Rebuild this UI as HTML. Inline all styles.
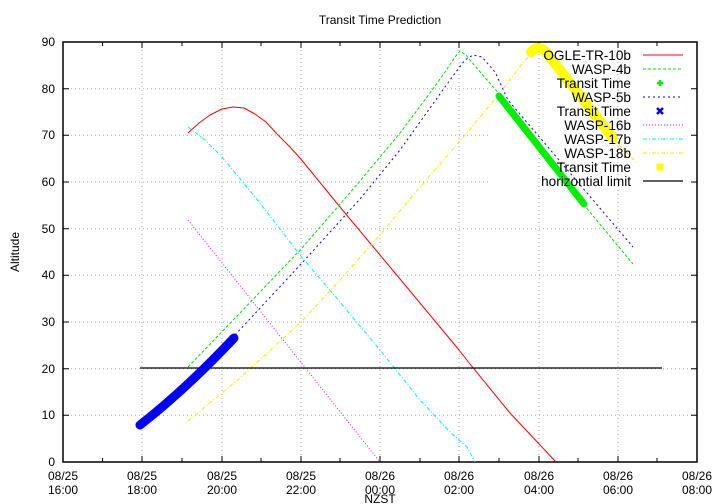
<!DOCTYPE html>
<html><head><meta charset="utf-8"><style>
html,body{margin:0;padding:0;background:#fff}
svg{display:block;font-family:"Liberation Sans",sans-serif;font-size:12px}
</style></head><body>
<svg width="720" height="504" viewBox="0 0 720 504" xmlns="http://www.w3.org/2000/svg">
<g stroke="#aaa" stroke-width="1" stroke-dasharray="1,3">
<line x1="142" y1="42" x2="142" y2="462"/><line x1="222" y1="42" x2="222" y2="462"/>
<line x1="301" y1="42" x2="301" y2="462"/><line x1="380" y1="42" x2="380" y2="462"/>
<line x1="459" y1="42" x2="459" y2="462"/><line x1="539" y1="42" x2="539" y2="462"/>
<line x1="618" y1="42" x2="618" y2="462"/>
<line x1="63" y1="415.3" x2="697" y2="415.3"/><line x1="63" y1="368.7" x2="697" y2="368.7"/>
<line x1="63" y1="322" x2="697" y2="322"/><line x1="63" y1="275.3" x2="697" y2="275.3"/>
<line x1="63" y1="228.7" x2="697" y2="228.7"/><line x1="63" y1="182" x2="490" y2="182"/>
<line x1="63" y1="135.3" x2="490" y2="135.3"/><line x1="63" y1="88.7" x2="490" y2="88.7"/>
</g>
<rect x="63" y="42" width="634" height="420" fill="none" stroke="#000" stroke-width="1.5"/>
<g stroke="#000" stroke-width="1">
<path d="M63 415.3h6M63 368.7h6M63 322h6M63 275.3h6M63 228.7h6M63 182h6M63 135.3h6M63 88.7h6M697 415.3h-6M697 368.7h-6M697 322h-6M697 275.3h-6M697 228.7h-6M697 182h-6M697 135.3h-6M697 88.7h-6"/>
<path d="M102.6 462v-4M142 462v-6M182 462v-4M222 462v-6M261 462v-4M301 462v-6M340 462v-4M380 462v-6M420 462v-4M459 462v-6M499 462v-4M539 462v-6M578 462v-4M618 462v-6M657 462v-4M102.6 42v4M142 42v6M182 42v4M222 42v6M261 42v4M301 42v6M340 42v4M380 42v6M420 42v4M459 42v6M499 42v4M539 42v6M578 42v4M618 42v6M657 42v4"/>
</g>
<g text-anchor="end">
<text x="55" y="466">0</text><text x="55" y="419">10</text><text x="55" y="373">20</text>
<text x="55" y="326">30</text><text x="55" y="279">40</text><text x="55" y="233">50</text>
<text x="55" y="186">60</text><text x="55" y="139">70</text><text x="55" y="93">80</text><text x="55" y="46">90</text>
</g>
<g text-anchor="middle">
<text x="63" y="480">08/25</text><text x="63" y="494">16:00</text>
<text x="142" y="480">08/25</text><text x="142" y="494">18:00</text>
<text x="222" y="480">08/25</text><text x="222" y="494">20:00</text>
<text x="301" y="480">08/25</text><text x="301" y="494">22:00</text>
<text x="380" y="480">08/26</text><text x="380" y="494">00:00</text>
<text x="459" y="480">08/26</text><text x="459" y="494">02:00</text>
<text x="539" y="480">08/26</text><text x="539" y="494">04:00</text>
<text x="618" y="480">08/26</text><text x="618" y="494">06:00</text>
<text x="697" y="480">08/26</text><text x="697" y="494">08:00</text>
<text x="380" y="24">Transit Time Prediction</text>
<text x="380" y="503">NZST</text>
<text transform="translate(19,252) rotate(-90)">Altitude</text>
</g>
<g fill="none" stroke-width="1" stroke-linejoin="round">
<polyline stroke="#f00" points="188,133 199,123 210,115 222,109 233,107 244,108 255,114 266,122 277,134 289,146 300,158 340,207 380,255 420,303 459,350 470,364 510,413 556,462"/>
<polyline stroke="#0d0" stroke-dasharray="3,2" points="188,367 240,313 302,248 360,181 400,133 430,93 445,72 455,57 460,51 466,55 475,66 501,96 584,205 633,264"/>
<polyline stroke="#00f" stroke-dasharray="2,3" points="235,335 302,263 360,199 400,150 430,108 450,80 465,60 473,55 482,57 495,72 508,100 570,173 633,247"/>
<polyline stroke="#f0f" stroke-dasharray="1,2" points="188,220 380,462"/>
<polyline stroke="#0ee" stroke-dasharray="4,2,1,2" points="188,127 205,140 222,157 260,203 300,255 340,302 380,350 420,400 450,432 467,447 475,462"/>
<polyline stroke="#ee0" stroke-dasharray="4,2,1,2" points="188,421 240,378 300,323 340,280 380,235 420,187 461,140 500,93 525,60 540,48 612,138 637,163"/>
<line x1="140" y1="368" x2="662" y2="368" stroke="#000" stroke-width="1.3"/>
</g>
<g fill="none" stroke-linecap="round">
<path d="M140 425 Q185 390 234 338" stroke="#00f" stroke-width="9"/>
<path d="M499 96 L584 204" stroke="#0e0" stroke-width="7"/>
<path d="M531 52 Q538 44 546 52 L613 138" stroke="#ff0" stroke-width="10"/>
</g>
<g text-anchor="end" font-size="13.6">
<text x="631" y="60">OGLE-TR-10b</text><text x="631" y="74">WASP-4b</text>
<text x="631" y="88">Transit Time</text><text x="631" y="102">WASP-5b</text>
<text x="631" y="116">Transit Time</text><text x="631" y="130">WASP-16b</text>
<text x="631" y="144">WASP-17b</text><text x="631" y="158">WASP-18b</text>
<text x="631" y="172">Transit Time</text><text x="631" y="186">horizontial limit</text>
</g>
<g fill="none" stroke-width="1">
<line x1="643" y1="55" x2="683" y2="55" stroke="#f00"/>
<line x1="643" y1="69" x2="683" y2="69" stroke="#0d0" stroke-dasharray="3,2"/>
<line x1="643" y1="97" x2="683" y2="97" stroke="#00f" stroke-dasharray="2,3"/>
<line x1="643" y1="125" x2="683" y2="125" stroke="#f0f" stroke-dasharray="1,2"/>
<line x1="643" y1="139" x2="683" y2="139" stroke="#0ee" stroke-dasharray="4,2,1,2"/>
<line x1="643" y1="153" x2="683" y2="153" stroke="#ee0" stroke-dasharray="4,2,1,2"/>
<line x1="643" y1="181" x2="683" y2="181" stroke="#000" stroke-width="1.3"/>
<path d="M660 80v6M657 83h6" stroke="#0e0" stroke-width="2.5"/>
<path d="M657 108l6 6M663 108l-6 6" stroke="#00f" stroke-width="2.5"/>
<rect x="657" y="164" width="6" height="6" fill="#ff0" stroke="#ff0"/>
</g>
</svg>
</body></html>
